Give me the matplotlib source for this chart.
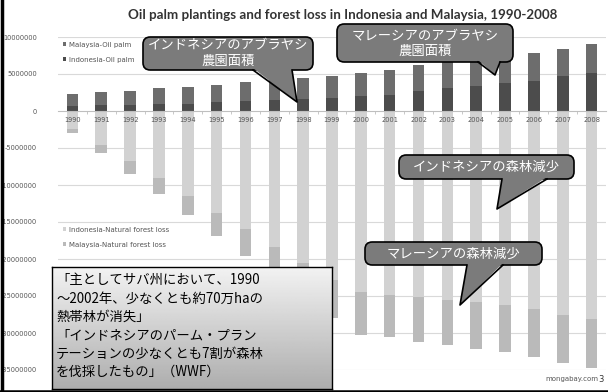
import matplotlib
matplotlib.use('Agg')
import matplotlib.pyplot as plt
import numpy as np
from matplotlib.patches import FancyBboxPatch, Polygon
from matplotlib.lines import Line2D

# data (hectares)
years = [str(y) for y in range(1990, 2009)]
indonesia_palm = [0.63, 0.75, 0.77, 0.98, 1.0, 1.2, 1.35, 1.45, 1.67, 1.8,
                  2.0, 2.1, 2.7, 3.15, 3.4, 3.8, 4.05, 4.7, 5.1]
malaysia_palm = [1.67, 1.75, 1.88, 2.07, 2.25, 2.3, 2.55, 2.7, 2.83, 2.9,
                 3.2, 3.5, 3.55, 3.6, 3.65, 3.7, 3.75, 3.7, 4.0]
indonesia_loss = [2.4, 4.64, 6.8, 9.05, 11.5, 13.74, 16.0, 18.4, 20.6, 22.9,
                  24.5, 24.9, 25.1, 25.5, 25.8, 26.2, 26.7, 27.6, 28.1]
malaysia_loss = [0.55, 1.04, 1.67, 2.2, 2.5, 3.15, 3.65, 4.0, 4.6, 5.1,
                 5.8, 5.7, 6.1, 6.1, 6.3, 6.3, 6.5, 6.4, 6.6]
y_ticks = [10000000, 5000000, 0, -5000000, -10000000, -15000000,
           -20000000, -25000000, -30000000, -35000000]

title = 'Oil palm plantings and forest loss in Indonesia and Malaysia, 1990-2008'
note_lines = ['「主としてサバ州において、1990',
              '～2002年、少なくとも約70万haの',
              '熱帯林が消失」',
              '「インドネシアのパーム・プラン',
              'テーションの少なくとも7割が森林',
              'を伐採したもの」（WWF）']

JP = ['Noto Sans CJK JP', 'DejaVu Sans']
W, H = 608, 392


def fx(x):
    return x / W


def fy(y):
    return 1 - y / H


fig = plt.figure(figsize=(6.08, 3.92), dpi=100)
fig.patch.set_facecolor('white')

ax = fig.add_axes([fx(58), fy(370), (606 - 58) / W, (370 - 37) / H])
ax.set_axisbelow(False)
x = np.arange(len(years))
ind_p = np.array(indonesia_palm) * 1e6
mal_p = np.array(malaysia_palm) * 1e6
ind_l = np.array(indonesia_loss) * 1e6
mal_l = np.array(malaysia_loss) * 1e6

bw = 0.4
b1 = ax.bar(x, ind_p, bw, color='#4c4c4c', zorder=1)
b2 = ax.bar(x, mal_p, bw, bottom=ind_p, color='#6d6d6d', zorder=1)
b3 = ax.bar(x, -ind_l, bw, color='#d2d2d2', zorder=1)
b4 = ax.bar(x, -mal_l, bw, bottom=-ind_l, color='#bababa', zorder=1)

ax.set_xlim(-0.5, len(years) - 0.5)
ax.set_ylim(-35e6, 10e6)
ax.set_yticks(y_ticks)
ax.set_yticklabels([str(v) for v in y_ticks])
for v in y_ticks:
    if v != 0:
        ax.axhline(v, color='#d9d9d9', lw=0.8, zorder=0)
for s in ['top', 'right', 'left']:
    ax.spines[s].set_visible(False)
ax.spines['bottom'].set_position(('data', 0))
ax.spines['bottom'].set_color('#bfbfbf')
ax.spines['bottom'].set_zorder(2.6)
ax.xaxis.set_zorder(3)
ax.tick_params(axis='y', length=0, pad=15, labelsize=4.8, labelcolor='#555555')
ax.set_xticks(x)
ax.set_xticklabels(years)
ax.set_xticks(x[:-1] + 0.5, minor=True)
ax.tick_params(axis='x', which='major', length=0, pad=4, labelsize=4.8,
               labelcolor='#555555')
ax.tick_params(axis='x', which='minor', length=2, color='#bfbfbf')

leg1 = ax.legend([b2, b1], ['Malaysia-Oil palm', 'Indonesia-Oil palm'],
                 loc='upper left', bbox_to_anchor=(fx(58), fy(37)),
                 bbox_transform=fig.transFigure, frameon=False, fontsize=5,
                 handlelength=0.5, handleheight=0.5, handletextpad=0.4,
                 labelspacing=1.3, borderaxespad=0.3)
for t in leg1.get_texts():
    t.set_color('#555555')
ax.add_artist(leg1)
leg2 = ax.legend([b3, b4], ['Indonesia-Natural forest loss', 'Malaysia-Natural forest loss'],
                 loc='upper left', bbox_to_anchor=(fx(58), fy(222)),
                 bbox_transform=fig.transFigure, frameon=False, fontsize=5,
                 handlelength=0.5, handleheight=0.5, handletextpad=0.4,
                 labelspacing=1.3, borderaxespad=0.3)
for t in leg2.get_texts():
    t.set_color('#555555')

fig.text(fx(343), fy(15), title, ha='center', va='center', fontsize=9.6,
         fontweight='bold', family='Lato', color='#333333')


def callout(box, base, tip, text):
    x0, y0, x1, y1 = box
    fill = '#7b7b7b'
    p = FancyBboxPatch((fx(x0), fy(y1)), fx(x1) - fx(x0), fy(y0) - fy(y1),
                       boxstyle='round,pad=0,rounding_size=0.012',
                       mutation_aspect=W / H, facecolor=fill,
                       edgecolor='black', lw=1.2, transform=fig.transFigure)
    fig.add_artist(p)
    pts = [(fx(base[0]), fy(y1 - 2)), (fx(tip[0]), fy(tip[1])), (fx(base[1]), fy(y1 - 2))]
    fig.add_artist(Polygon(pts, closed=True, facecolor=fill, edgecolor='none',
                           transform=fig.transFigure, zorder=1.5))
    fig.add_artist(Line2D([fx(base[0]), fx(tip[0]), fx(base[1])],
                          [fy(y1), fy(tip[1]), fy(y1)], color='black', lw=1.2,
                          transform=fig.transFigure, zorder=1.6))
    fig.text(fx((x0 + x1) / 2), fy((y0 + y1) / 2), text, ha='center', va='center',
             color='white', fontsize=9.6, family=JP, linespacing=1.15, zorder=3)


callout((143, 37, 313, 70), (253, 292), (297, 102), 'インドネシアのアブラヤシ\n農園面積')
callout((337, 24, 513, 62), (478, 500), (495, 75), 'マレーシアのアブラヤシ\n農園面積')
callout((399, 155, 574, 179), (502, 547), (497, 209), 'インドネシアの森林減少')
callout((365, 242, 542, 265), (467, 503), (460, 305), 'マレーシアの森林減少')

# note box with gradient
nax = fig.add_axes([fx(52), fy(389), fx(332) - fx(52), fy(267) - fy(389)])
grad = np.linspace(0.95, 0.68, 100).reshape(-1, 1)
nax.imshow(grad, aspect='auto', cmap='gray', vmin=0, vmax=1,
           extent=[0, 1, 0, 1], origin='upper')
nax.set_xticks([])
nax.set_yticks([])
for s in nax.spines.values():
    s.set_color('black')
    s.set_linewidth(1.0)
for i, line in enumerate(note_lines):
    fig.text(fx(56), fy(280 + i * 18.4), line, ha='left', va='center',
             fontsize=9.6, family=JP, color='black')

fig.text(fx(598), fy(379), 'mongabay.com', ha='right', va='center',
         fontsize=5, color='#555555')
fig.text(fx(601), fy(379), '3', ha='center', va='center', fontsize=6,
         color='#333333')

# slide frame
fig.add_artist(Line2D([fx(1.5), fx(1.5)], [0, 1], color='black', lw=2.5,
                      transform=fig.transFigure))
fig.add_artist(Line2D([0, 1], [fy(390.5), fy(390.5)], color='black', lw=1.8,
                      transform=fig.transFigure))

fig.savefig('out.png', dpi=100)
